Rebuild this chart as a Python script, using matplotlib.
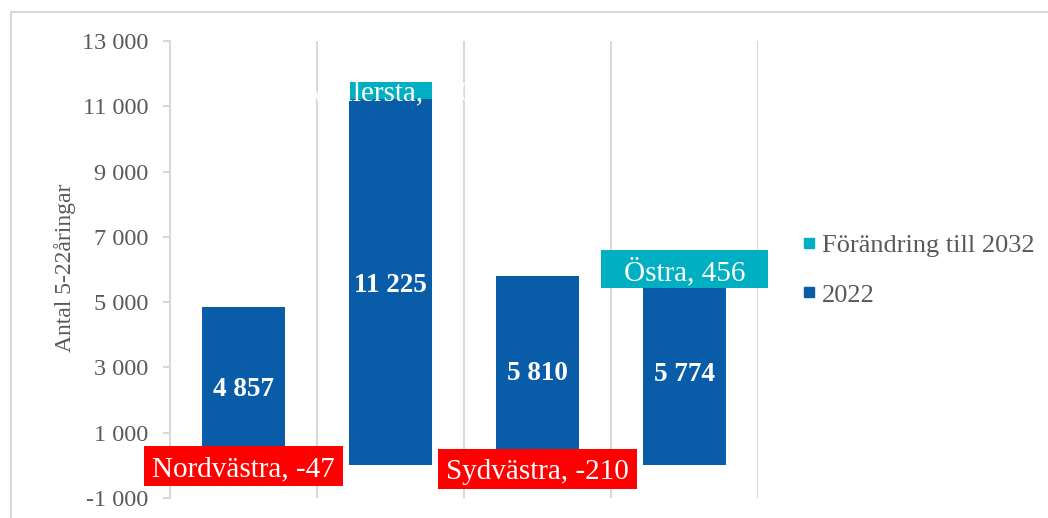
import numpy as np
import matplotlib.pyplot as plt
from matplotlib.lines import Line2D
from matplotlib.patches import Rectangle
from matplotlib.ticker import FuncFormatter, FixedLocator

plt.rcParams['font.family'] = ['Liberation Serif', 'DejaVu Serif']

regions = ['Nordvästra', 'Mellersta', 'Sydvästra', 'Östra']
v2022 = np.array([4857, 11225, 5810, 5774])
change = np.array([-47, 520, -210, 456])
# label box size (width in category units, height in px); 0 = no box
box_w = [1.35, 0, 1.35, 1.14]
box_h = [40, 0, 40, 38]

blue = '#095DA8'
teal = '#00AFC1'
red = '#FF0000'
grey_txt = '#595959'
grey_line = '#D9D9D9'


def sp(v):
    return f"{int(round(v)):,}".replace(",", " ")


fig = plt.figure(figsize=(10.48, 5.18), dpi=100)
ax = fig.add_axes([170/1048, 20/518, 588/1048, 457/518])

ymin, ymax = -1000, 13000
px_per_unit = 457 / (ymax - ymin)

x = np.arange(len(regions))
w = 0.56
ax.bar(x, v2022, width=w, color=blue, zorder=2)
bottoms = np.where(change > 0, v2022, 0)
ax.bar(x, change, width=w, bottom=bottoms, color=teal, zorder=2)

# value labels of 2022
for xi, v in zip(x, v2022):
    ax.text(xi, v / 2, sp(v), ha='center', va='center_baseline', color='white',
            fontsize=19.5, fontweight='bold', zorder=4)

# change labels
for xi, name, c, b, bw, bh in zip(x, regions, change, bottoms, box_w, box_h):
    ymid = b + c / 2
    if bw > 0:
        fc = teal if c > 0 else red
        hh = bh / px_per_unit
        ax.add_patch(Rectangle((xi - bw / 2, ymid - hh / 2), bw, hh, fc=fc,
                               ec='none', zorder=4, clip_on=False))
    ax.text(xi, ymid, f"{name}, {sp(c)}", ha='center', va='center_baseline',
            color='white', fontsize=21, zorder=5)

ax.set_xlim(-0.5, len(regions) - 0.5)
ax.set_ylim(ymin, ymax)
ax.yaxis.set_major_locator(FixedLocator(np.arange(ymin, ymax + 1, 2000)))
ax.yaxis.set_major_formatter(FuncFormatter(lambda v, p: sp(v)))
ax.set_xticks([])
ax.set_xticks(np.arange(0.5, len(regions)), minor=True)
ax.tick_params(axis='x', which='minor', length=0)
ax.grid(axis='x', which='minor', color=grey_line, linewidth=1.5, zorder=0)
ax.tick_params(axis='y', colors=grey_line, length=5, width=1.5, pad=10.5,
               labelcolor=grey_txt, labelsize=17.5)

for s in ['top', 'right', 'bottom']:
    ax.spines[s].set_visible(False)
ax.spines['left'].set_color(grey_line)
ax.spines['left'].set_linewidth(1.5)

ax.set_ylabel('Antal 5-22åringar', fontsize=17, color=grey_txt)
ax.yaxis.set_label_coords(-0.16, 0.503)

handles = [Line2D([], [], marker='s', linestyle='none', color=teal, markersize=7.5),
           Line2D([], [], marker='s', linestyle='none', color=blue, markersize=7.5)]
fig.legend(handles, ['Förändring till 2032', '2022'], loc='center left',
           bbox_to_anchor=(777/1048, 1 - 270/518), frameon=False, fontsize=19,
           labelcolor=grey_txt, handletextpad=0.2, labelspacing=1.0,
           handlelength=0.6)

fig.patches.append(Rectangle((11/1048, -0.1), 1.2, 1.1 - 12/518,
                             transform=fig.transFigure, fill=False,
                             ec=grey_line, lw=1.5))

fig.savefig('out.png', dpi=100)
